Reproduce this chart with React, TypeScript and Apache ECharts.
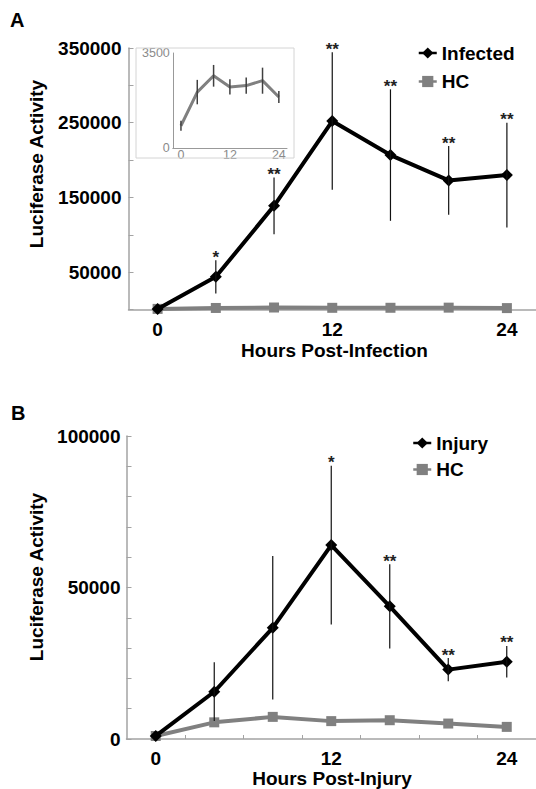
import React, { useEffect, useRef } from "react";
import * as echarts from "echarts";

// ---- data ----
const hours = [0, 4, 8, 12, 16, 20, 24];

const infected = [800, 43700, 138800, 252200, 206700, 172800, 179900];
const infectedErr = [0, 22300, 38000, 92000, 88000, 46000, 70000];
const infectedSig = ["", "*", "**", "**", "**", "**", "**"];
const hcA = [820, 2060, 2660, 2250, 2300, 2480, 1880];
const hcAErr = [180, 450, 400, 280, 300, 480, 220];

const injury = [1000, 15600, 36700, 64000, 43800, 22900, 25500];
const injuryErr = [0, 9700, 23700, 26200, 13900, 3800, 5200];
const injurySig = ["", "", "", "*", "**", "**", "**"];
const hcB = [1000, 5500, 7300, 5900, 6200, 5100, 4000];

const xLabels = [0, 12, 24];
const xTicksB = [2, 6, 10, 14, 18, 22];
const yLabelsA = [50000, 150000, 250000, 350000];
const yTicksA = [0, 50000, 100000, 150000, 200000, 250000, 300000, 350000];
const yLabelsB = [0, 50000, 100000];
const yTicksB = [0, 10000, 20000, 30000, 40000, 50000, 60000, 70000, 80000, 90000, 100000];
const insetYLabels = [0, 3500];

const FONT = "'Liberation Sans', Arial, sans-serif";
const AXIS_GREY = "#a3a3a3";
const HC_GREY = "#808080";
const plain = (v: number) => String(v);

function errorSeries(
  name: string,
  xi: number,
  vals: number[],
  errs: number[],
  sig: string[] | null,
  color: string,
  width: number
) {
  return {
    name,
    type: "custom",
    xAxisIndex: xi,
    yAxisIndex: xi,
    silent: true,
    z: 5,
    encode: { x: 0, y: 1 },
    data: hours.map((h, i) => [h, vals[i], errs[i]]),
    renderItem: (params: any, api: any) => {
      const x = api.value(0);
      const y = api.value(1);
      const e = api.value(2);
      const top = api.coord([x, y + e]);
      const bot = api.coord([x, y - e]);
      const children: any[] = [];
      if (e > 0) {
        children.push({
          type: "line",
          shape: { x1: top[0], y1: top[1], x2: bot[0], y2: bot[1] },
          style: { stroke: color, lineWidth: width },
        });
      }
      const s = sig ? sig[params.dataIndex] : "";
      if (s) {
        children.push({
          type: "text",
          x: top[0],
          y: top[1] - 3,
          style: {
            text: s,
            font: `bold 17px ${FONT}`,
            fill: "#222",
            align: "center",
            verticalAlign: "middle",
          },
        });
      }
      return { type: "group", children };
    },
  };
}

export default function App() {
  const ref = useRef<HTMLDivElement>(null);

  useEffect(() => {
    if (!ref.current) return;
    const chart = echarts.init(ref.current, null, { renderer: "svg" });

    const boldLabel = {
      color: "#000",
      fontWeight: "bold",
      fontSize: 19,
      fontFamily: FONT,
    };

    const option: any = {
      animation: false,
      backgroundColor: "#fff",
      grid: [
        { left: 128.5, top: 48, width: 410, height: 261.5 },
        { left: 172.8, top: 53, width: 114.2, height: 95 },
        { left: 126.5, top: 436, width: 410, height: 303 },
      ],
      xAxis: [
        {
          gridIndex: 0,
          type: "value",
          min: -2,
          max: 26,
          axisLine: { onZero: false, lineStyle: { color: AXIS_GREY, width: 1.5 } },
          axisTick: { show: false },
          splitLine: { show: false },
          axisLabel: { ...boldLabel, margin: 10, customValues: xLabels, formatter: plain },
        },
        {
          gridIndex: 1,
          type: "value",
          min: -2,
          max: 26,
          axisLine: { onZero: false, lineStyle: { color: "#999", width: 1 } },
          axisTick: { show: false },
          splitLine: { show: false },
          axisLabel: {
            color: "#8a8a8a",
            fontSize: 12.5,
            fontFamily: FONT,
            margin: 0,
            customValues: xLabels,
            formatter: plain,
          },
        },
        {
          gridIndex: 2,
          type: "value",
          min: -2,
          max: 26,
          axisLine: { onZero: false, lineStyle: { color: AXIS_GREY, width: 1.5 } },
          axisTick: {
            show: true,
            inside: true,
            length: 4,
            lineStyle: { color: AXIS_GREY },
            customValues: xTicksB,
          },
          splitLine: { show: false },
          axisLabel: { ...boldLabel, margin: 10, customValues: xLabels, formatter: plain },
        },
      ],
      yAxis: [
        {
          gridIndex: 0,
          type: "value",
          min: 0,
          max: 350000,
          interval: 50000,
          axisLine: { show: true, onZero: false, lineStyle: { color: AXIS_GREY, width: 1.5 } },
          axisTick: {
            show: true,
            inside: true,
            length: 5,
            lineStyle: { color: AXIS_GREY },
            customValues: yTicksA,
          },
          splitLine: { show: false },
          axisLabel: { ...boldLabel, margin: 7, customValues: yLabelsA, formatter: plain },
        },
        {
          gridIndex: 1,
          type: "value",
          min: 0,
          max: 3500,
          axisLine: { show: true, onZero: false, lineStyle: { color: "#999", width: 1 } },
          axisTick: { show: false },
          splitLine: { show: false },
          axisLabel: {
            color: "#8a8a8a",
            fontSize: 12.5,
            fontFamily: FONT,
            margin: 3,
            customValues: insetYLabels,
            formatter: plain,
          },
        },
        {
          gridIndex: 2,
          type: "value",
          min: 0,
          max: 100000,
          interval: 10000,
          axisLine: { show: true, onZero: false, lineStyle: { color: AXIS_GREY, width: 1.5 } },
          axisTick: {
            show: true,
            inside: true,
            length: 5,
            lineStyle: { color: AXIS_GREY },
            customValues: yTicksB,
          },
          splitLine: { show: false },
          axisLabel: { ...boldLabel, margin: 6, customValues: yLabelsB, formatter: plain },
        },
      ],
      legend: [
        {
          orient: "vertical",
          left: 417.5,
          top: 43.5,
          padding: 0,
          itemWidth: 18,
          itemHeight: 14,
          itemGap: 9.5,
          selectedMode: false,
          data: ["Infected", "HC"],
          lineStyle: { width: 2.5 },
          textStyle: boldLabel,
        },
        {
          orient: "vertical",
          left: 412,
          top: 433.5,
          padding: 0,
          itemWidth: 18,
          itemHeight: 14,
          itemGap: 7.5,
          selectedMode: false,
          data: ["Injury", "HC"],
          lineStyle: { width: 2.5 },
          textStyle: boldLabel,
        },
      ],
      series: [
        {
          name: "HC",
          type: "line",
          xAxisIndex: 0,
          yAxisIndex: 0,
          data: hours.map((h, i) => [h, hcA[i]]),
          symbol: "rect",
          symbolSize: 10,
          lineStyle: { color: HC_GREY, width: 4 },
          itemStyle: { color: HC_GREY },
          z: 2,
        },
        {
          name: "Infected",
          type: "line",
          xAxisIndex: 0,
          yAxisIndex: 0,
          data: hours.map((h, i) => [h, infected[i]]),
          symbol: "diamond",
          symbolSize: 12,
          lineStyle: { color: "#000", width: 4 },
          itemStyle: { color: "#000" },
          z: 3,
        },
        errorSeries("InfectedErr", 0, infected, infectedErr, infectedSig, "#111", 1.2),
        {
          name: "HC inset",
          type: "line",
          xAxisIndex: 1,
          yAxisIndex: 1,
          data: hours.map((h, i) => [h, hcA[i]]),
          showSymbol: false,
          symbol: "none",
          lineStyle: { color: HC_GREY, width: 3 },
          itemStyle: { color: HC_GREY },
          z: 2,
        },
        errorSeries("HCInsetErr", 1, hcA, hcAErr, null, "#404040", 1.5),
        {
          name: "HC",
          type: "line",
          xAxisIndex: 2,
          yAxisIndex: 2,
          data: hours.map((h, i) => [h, hcB[i]]),
          symbol: "rect",
          symbolSize: 10,
          lineStyle: { color: HC_GREY, width: 4 },
          itemStyle: { color: HC_GREY },
          z: 2,
        },
        {
          name: "Injury",
          type: "line",
          xAxisIndex: 2,
          yAxisIndex: 2,
          data: hours.map((h, i) => [h, injury[i]]),
          symbol: "diamond",
          symbolSize: 12,
          lineStyle: { color: "#000", width: 4 },
          itemStyle: { color: "#000" },
          z: 3,
        },
        errorSeries("InjuryErr", 2, injury, injuryErr, injurySig, "#111", 1.2),
      ],
      graphic: [
        {
          type: "rect",
          shape: { x: 136, y: 48, width: 158, height: 110 },
          style: { fill: "none", stroke: "#d4d4d4", lineWidth: 1 },
          z: 1,
        },
        {
          type: "text",
          x: 10,
          y: 20,
          style: { text: "A", font: `bold 20px ${FONT}`, fill: "#000", verticalAlign: "middle" },
        },
        {
          type: "text",
          x: 11,
          y: 412.5,
          style: { text: "B", font: `bold 20px ${FONT}`, fill: "#000", verticalAlign: "middle" },
        },
        {
          type: "text",
          x: 36,
          y: 164,
          rotation: Math.PI / 2,
          style: {
            text: "Luciferase Activity",
            font: `bold 19px ${FONT}`,
            fill: "#000",
            align: "center",
            verticalAlign: "middle",
          },
        },
        {
          type: "text",
          x: 36,
          y: 577,
          rotation: Math.PI / 2,
          style: {
            text: "Luciferase Activity",
            font: `bold 19px ${FONT}`,
            fill: "#000",
            align: "center",
            verticalAlign: "middle",
          },
        },
        {
          type: "text",
          x: 334.5,
          y: 350,
          style: {
            text: "Hours Post-Infection",
            font: `bold 19px ${FONT}`,
            fill: "#000",
            align: "center",
            verticalAlign: "middle",
          },
        },
        {
          type: "text",
          x: 332,
          y: 778,
          style: {
            text: "Hours Post-Injury",
            font: `bold 19px ${FONT}`,
            fill: "#000",
            align: "center",
            verticalAlign: "middle",
          },
        },
      ],
    };

    chart.setOption(option);
    return () => chart.dispose();
  }, []);

  return (
    <div
      ref={ref}
      style={{ position: "absolute", left: 0, top: 0, width: 536, height: 789, background: "#fff" }}
    />
  );
}
